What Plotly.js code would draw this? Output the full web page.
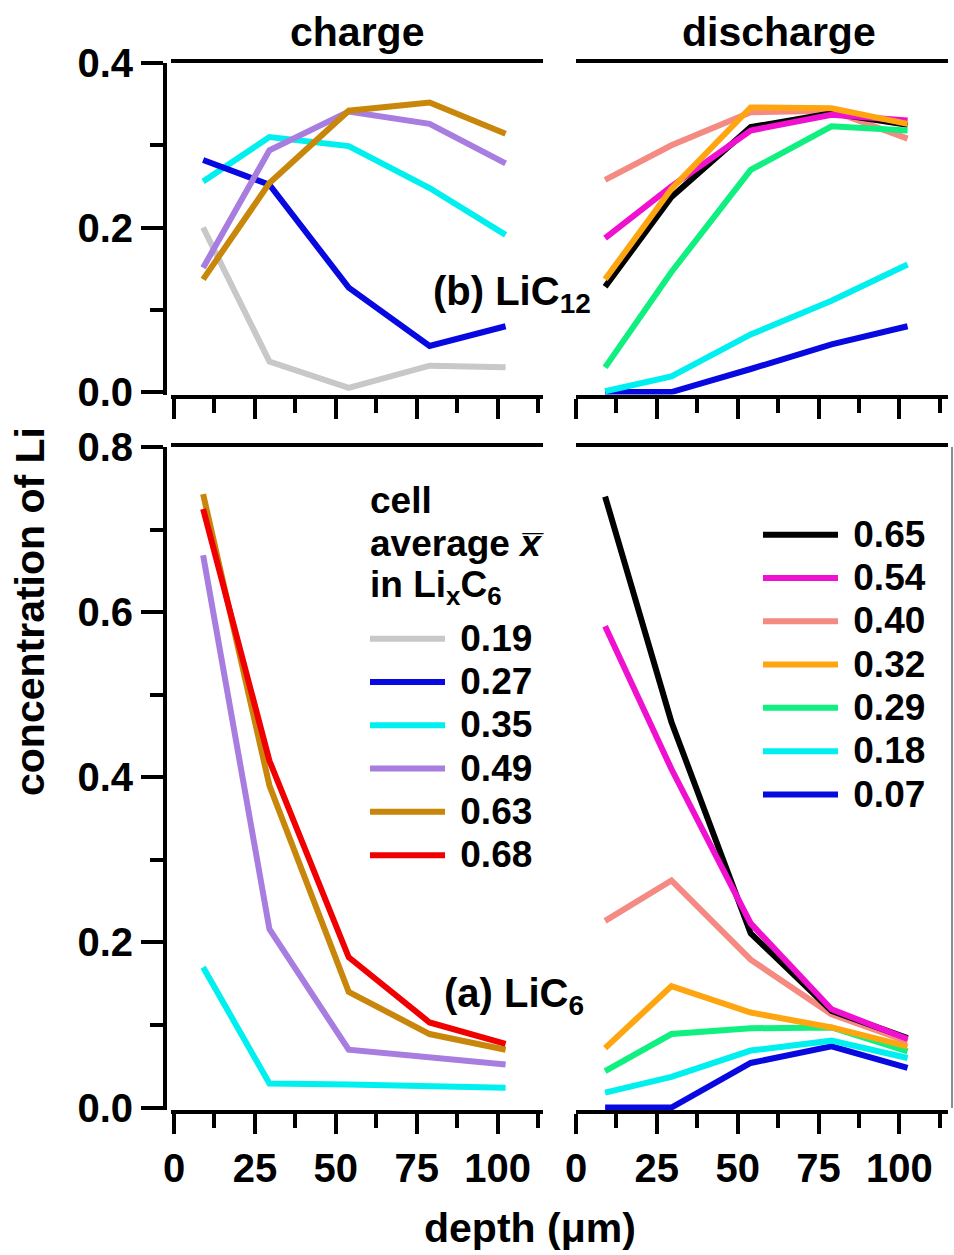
<!DOCTYPE html>
<html><head><meta charset="utf-8">
<script src="https://cdn.plot.ly/plotly-3.0.1.min.js"></script>
<style>html,body{margin:0;padding:0;background:#fff}</style>
</head><body>
<div id="chart" style="width:954px;height:1255px"></div>
<script>
// depth positions (µm)
const depth = [9, 29.5, 54, 79, 102.5];
const xTickVals = [0, 25, 50, 75, 100];

// ---- charge, LiC12 (top-left) ----
const c12_019 = [0.200, 0.037, 0.005, 0.032, 0.030];
const c12_027 = [0.282, 0.252, 0.127, 0.056, 0.080];
const c12_035 = [0.256, 0.310, 0.299, 0.248, 0.191];
const c12_049 = [0.151, 0.294, 0.341, 0.326, 0.278];
const c12_063 = [0.137, 0.254, 0.342, 0.352, 0.314];

// ---- discharge, LiC12 (top-right) ----
const d12_065 = [0.128, 0.237, 0.322, 0.339, 0.325];
const d12_054 = [0.187, 0.250, 0.318, 0.337, 0.330];
const d12_040 = [0.258, 0.300, 0.340, 0.342, 0.308];
const d12_032 = [0.137, 0.247, 0.346, 0.345, 0.326];
const d12_029 = [0.030, 0.146, 0.270, 0.323, 0.318];
const d12_018 = [0.001, 0.019, 0.070, 0.111, 0.155];
const d12_007 = [0.000, 0.000, 0.028, 0.058, 0.080];

// ---- charge, LiC6 (bottom-left) ----
const c6_035 = [0.170, 0.029, 0.028, 0.026, 0.024];
const c6_049 = [0.669, 0.216, 0.070, 0.060, 0.052];
const c6_063 = [0.743, 0.390, 0.140, 0.089, 0.070];
const c6_068 = [0.725, 0.420, 0.182, 0.103, 0.077];

// ---- discharge, LiC6 (bottom-right) ----
const d6_065 = [0.740, 0.467, 0.211, 0.117, 0.084];
const d6_054 = [0.583, 0.410, 0.223, 0.119, 0.083];
const d6_040 = [0.226, 0.275, 0.179, 0.113, 0.080];
const d6_032 = [0.072, 0.147, 0.115, 0.097, 0.074];
const d6_029 = [0.044, 0.089, 0.096, 0.097, 0.068];
const d6_018 = [0.018, 0.037, 0.069, 0.081, 0.060];
const d6_007 = [0.000, 0.000, 0.054, 0.074, 0.048];

// legend labels (cell average x)
const chargeLabels = ['0.19', '0.27', '0.35', '0.49', '0.63', '0.68'];
const dischargeLabels = ['0.65', '0.54', '0.40', '0.32', '0.29', '0.18', '0.07'];

const COL = {
  gray: '#c8c8c8', blue: '#0808e0', cyan: '#00f0f0', purple: '#a87de0',
  gold: '#c8860a', red: '#f00000', black: '#000000', magenta: '#f010d0',
  salmon: '#f48a82', orange: '#ffa510', green: '#10f080'
};

const FONT = '"Liberation Sans", Arial, sans-serif';
const LW = 6;

function tr(y, xa, ya, color, label, legend, show, rank) {
  return {
    type: 'scatter', mode: 'lines', x: depth, y: y,
    xaxis: xa, yaxis: ya,
    line: {color: color, width: LW},
    name: '<span style="font-size:37px">\u00a0' + label + '</span>',
    legend: legend, showlegend: show, legendrank: rank,
    hoverinfo: 'skip'
  };
}

const data = [
  // top-left
  tr(c12_019, 'x', 'y', COL.gray,   chargeLabels[0], 'legend', true, 1),
  tr(c12_035, 'x', 'y', COL.cyan,   chargeLabels[2], 'legend', true, 3),
  tr(c12_027, 'x', 'y', COL.blue,   chargeLabels[1], 'legend', true, 2),
  tr(c12_049, 'x', 'y', COL.purple, chargeLabels[3], 'legend', true, 4),
  tr(c12_063, 'x', 'y', COL.gold,   chargeLabels[4], 'legend', true, 5),
  // bottom-left
  tr(c6_035, 'x3', 'y2', COL.cyan,   chargeLabels[2], 'legend', false, 3),
  tr(c6_049, 'x3', 'y2', COL.purple, chargeLabels[3], 'legend', false, 4),
  tr(c6_063, 'x3', 'y2', COL.gold,   chargeLabels[4], 'legend', false, 5),
  tr(c6_068, 'x3', 'y2', COL.red,    chargeLabels[5], 'legend', true, 6),
  // top-right
  tr(d12_007, 'x2', 'y', COL.blue,    dischargeLabels[6], 'legend2', true, 7),
  tr(d12_018, 'x2', 'y', COL.cyan,    dischargeLabels[5], 'legend2', true, 6),
  tr(d12_040, 'x2', 'y', COL.salmon,  dischargeLabels[2], 'legend2', true, 3),
  tr(d12_065, 'x2', 'y', COL.black,   dischargeLabels[0], 'legend2', true, 1),
  tr(d12_054, 'x2', 'y', COL.magenta, dischargeLabels[1], 'legend2', true, 2),
  tr(d12_029, 'x2', 'y', COL.green,   dischargeLabels[4], 'legend2', true, 5),
  tr(d12_032, 'x2', 'y', COL.orange,  dischargeLabels[3], 'legend2', true, 4),
  // bottom-right
  tr(d6_007, 'x4', 'y2', COL.blue,    dischargeLabels[6], 'legend2', false, 7),
  tr(d6_018, 'x4', 'y2', COL.cyan,    dischargeLabels[5], 'legend2', false, 6),
  tr(d6_029, 'x4', 'y2', COL.green,   dischargeLabels[4], 'legend2', false, 5),
  tr(d6_032, 'x4', 'y2', COL.orange,  dischargeLabels[3], 'legend2', false, 4),
  tr(d6_040, 'x4', 'y2', COL.salmon,  dischargeLabels[2], 'legend2', false, 3),
  tr(d6_065, 'x4', 'y2', COL.black,   dischargeLabels[0], 'legend2', false, 1),
  tr(d6_054, 'x4', 'y2', COL.magenta, dischargeLabels[1], 'legend2', false, 2)
];

const W = 954, H = 1255;
const px = v => v / W;
const py = v => 1 - v / H;

const tickFont = {family: FONT, size: 40, color: '#000', weight: 700};

function xax(dom, range, anchor, labels) {
  return {
    domain: dom, range: range, anchor: anchor,
    showline: true, linewidth: 4, linecolor: '#000', mirror: true,
    ticks: 'outside', ticklen: 20, tickwidth: 4, tickcolor: '#000',
    tickmode: 'array', tickvals: xTickVals, ticktext: xTickVals.map(String),
    minor: {tickmode: 'linear', tick0: 12.5, dtick: 25, ticks: 'outside', ticklen: 14, tickwidth: 4, tickcolor: '#000'},
    showticklabels: labels, tickfont: tickFont,
    showgrid: false, zeroline: false, fixedrange: true
  };
}
function yax(dom, range, maxv) {
  const vals = [];
  for (let v = 0; v <= maxv + 1e-9; v += 0.2) vals.push(Math.round(v * 10) / 10);
  return {
    domain: dom, range: range, anchor: 'free', position: px(165),
    showline: true, linewidth: 4, linecolor: '#000', mirror: false,
    ticks: 'outside', ticklen: 22, tickwidth: 4, tickcolor: '#000',
    tickmode: 'array', tickvals: vals, ticktext: vals.map(v => v.toFixed(1)),
    minor: {tickmode: 'linear', tick0: 0.1, dtick: 0.2, ticks: 'outside', ticklen: 13, tickwidth: 4, tickcolor: '#000'},
    tickfont: tickFont,
    showgrid: false, zeroline: false, fixedrange: true
  };
}

const LD = [px(171), px(543)], RD = [px(576), px(948)];
const TD = [py(394.5), py(63)], BD = [py(1110), py(447)];
const LR = [-0.93, 114.06], RR = [0, 115];

function ann(text, x, y, size, opts) {
  return Object.assign({
    text: text, x: px(x), y: py(y), xref: 'paper', yref: 'paper',
    showarrow: false, xanchor: 'center', yanchor: 'middle',
    font: {family: FONT, size: size, color: '#000', weight: 700}
  }, opts || {});
}

const legendCommon = {
  bgcolor: 'rgba(0,0,0,0)', borderwidth: 0,
  font: {family: FONT, size: 31, color: '#000', weight: 700},
  itemwidth: 75, tracegroupgap: 0, traceorder: 'normal',
  xanchor: 'left', yanchor: 'top', itemclick: false, itemdoubleclick: false
};

const layout = {
  width: W, height: H,
  margin: {l: 0, r: 0, t: 0, b: 0},
  paper_bgcolor: '#fff', plot_bgcolor: 'rgba(0,0,0,0)',
  font: {family: FONT, size: 40, color: '#000', weight: 700},
  showlegend: true,
  xaxis: xax(LD, LR, 'y', false),
  xaxis2: xax(RD, RR, 'y', false),
  xaxis3: xax(LD, LR, 'y2', true),
  xaxis4: xax(RD, RR, 'y2', true),
  yaxis: yax(TD, [-0.003, 0.4], 0.4),
  yaxis2: yax(BD, [-0.003, 0.8], 0.8),
  legend: Object.assign({x: px(365), y: py(612)}, legendCommon),
  legend2: Object.assign({x: px(758), y: py(508)}, legendCommon),
  annotations: [
    ann('charge', 357, 32, 41),
    ann('discharge', 779, 32, 41),
    ann('depth (\u03bcm)', 530, 1228, 41),
    ann('concentration of Li', 30, 612, 41, {textangle: -90}),
    ann('(b) LiC<sub>12</sub>', 431, 294, 40, {xanchor: 'left'}),
    ann('(a) LiC<sub>6</sub>', 442, 996, 40, {xanchor: 'left'}),
    ann('cell', 368, 500, 37, {xanchor: 'left'}),
    ann('average <i>x\u0305</i>', 368, 543, 37, {xanchor: 'left'}),
    ann('in Li<sub>x</sub>C<sub>6</sub>', 368, 587, 37, {xanchor: 'left'})
  ],
  shapes: [
    {type: 'line', xref: 'paper', yref: 'paper', x0: px(952), x1: px(952), y0: py(447), y1: py(1108),
     line: {color: '#666', width: 1.5}}
  ]
};

Plotly.newPlot('chart', data, layout, {staticPlot: true, displayModeBar: false});
</script>
</body></html>
